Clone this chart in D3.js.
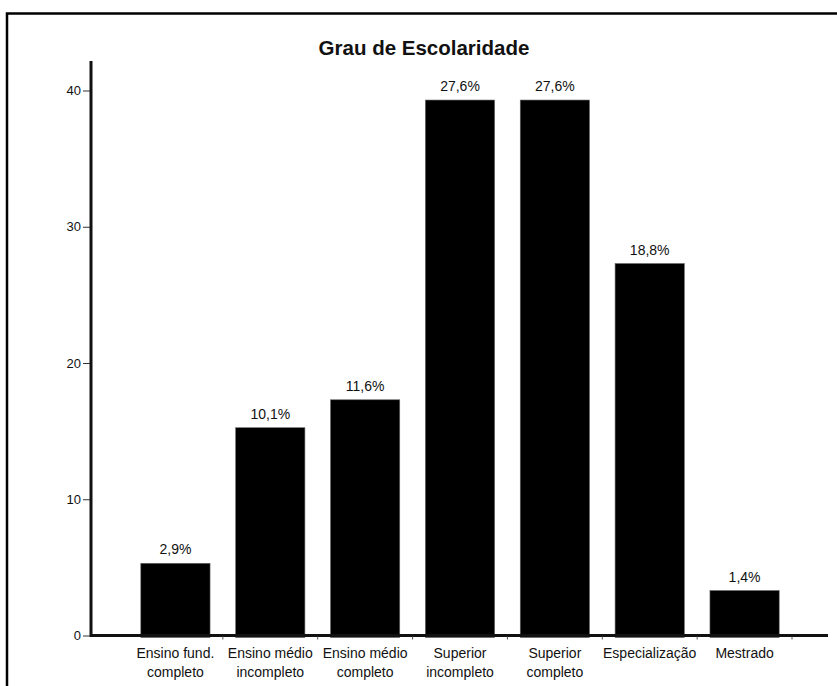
<!DOCTYPE html>
<html>
<head>
<meta charset="utf-8">
<script src="https://cdn.jsdelivr.net/npm/d3@7"></script>
<style>
  html, body { margin: 0; padding: 0; background: #fff; }
  svg { display: block; }
  text { font-family: "Liberation Sans", Arial, sans-serif; fill: #111; }
</style>
</head>
<body>
<svg id="chart" width="837" height="686"></svg>
<script>
// Escolaridade: categorias, contagens e percentuais
const categories = [
  ["Ensino fund.", "completo"],
  ["Ensino médio", "incompleto"],
  ["Ensino médio", "completo"],
  ["Superior", "incompleto"],
  ["Superior", "completo"],
  ["Especialização"],
  ["Mestrado"]
];
const counts = [5.3, 15.25, 17.3, 39.3, 39.3, 27.3, 3.3];
const percentLabels = ["2,9%", "10,1%", "11,6%", "27,6%", "27,6%", "18,8%", "1,4%"];
const yTicks = [0, 10, 20, 30, 40];
const title = "Grau de Escolaridade";

const svg = d3.select("#chart");

// moldura
svg.append("path")
  .attr("d", "M7,686 V13.5 H837")
  .attr("fill", "none")
  .attr("stroke", "#000")
  .attr("stroke-width", 2.5);

const x0 = 91, yBase = 635.5, yTop = 90.5;

const x = d3.scaleBand()
  .domain(d3.range(categories.length))
  .range([128, 792])
  .paddingInner(0.27)
  .paddingOuter(0.135);

const y = d3.scaleLinear().domain([0, 40]).range([yBase, yTop]);

// título
svg.append("text")
  .attr("x", 424)
  .attr("y", 55)
  .attr("text-anchor", "middle")
  .style("font-weight", "bold")
  .style("font-size", "20.5px")
  .text(title);

// barras
svg.append("g").selectAll("rect")
  .data(counts)
  .join("rect")
  .attr("x", (d, i) => x(i))
  .attr("width", x.bandwidth())
  .attr("y", d => y(d))
  .attr("height", d => y(0) - y(d) + 2)
  .attr("fill", "#000")
  .attr("stroke", "#666")
  .attr("stroke-width", 0.6);

// rótulos de percentual
svg.append("g").selectAll("text")
  .data(counts)
  .join("text")
  .attr("x", (d, i) => x(i) + x.bandwidth() / 2)
  .attr("y", d => y(d) - 9)
  .attr("text-anchor", "middle")
  .style("font-size", "14px")
  .text((d, i) => percentLabels[i]);

// eixo y
const yAxis = svg.append("g")
  .attr("transform", `translate(${x0},0)`)
  .call(d3.axisLeft(y).tickValues(yTicks).tickSize(8).tickPadding(2).tickFormat(d3.format("d")));
yAxis.select(".domain").remove();
yAxis.selectAll(".tick line").attr("stroke", "#333").attr("stroke-width", 1);
yAxis.selectAll(".tick text").style("font-size", "13px").style("font-family", "'Liberation Sans', Arial, sans-serif").attr("fill", "#222");
svg.append("line")
  .attr("x1", x0).attr("x2", x0)
  .attr("y1", 61).attr("y2", yBase + 1.5)
  .attr("stroke", "#111").attr("stroke-width", 3);

// eixo x
const xAxis = svg.append("g")
  .attr("transform", `translate(0,${yBase})`)
  .call(d3.axisBottom(x).tickSize(0).tickFormat(""));
xAxis.select(".domain").remove();
svg.append("line")
  .attr("x1", x0).attr("x2", 828)
  .attr("y1", yBase).attr("y2", yBase)
  .attr("stroke", "#111").attr("stroke-width", 3);

// marcas entre categorias
const bounds = d3.range(categories.length + 1).map(i => 128 + i * x.step());
svg.append("g").selectAll("line")
  .data(bounds.slice(1))
  .join("line")
  .attr("x1", d => d).attr("x2", d => d)
  .attr("y1", yBase + 1).attr("y2", yBase + 4)
  .attr("stroke", "#555").attr("stroke-width", 1);

// rótulos das categorias
const labels = svg.append("g").selectAll("text")
  .data(categories)
  .join("text")
  .attr("x", (d, i) => x(i) + x.bandwidth() / 2)
  .attr("y", 658)
  .attr("text-anchor", "middle")
  .style("font-size", "14px");
labels.selectAll("tspan")
  .data(d => d)
  .join("tspan")
  .attr("x", function() { return d3.select(this.parentNode).attr("x"); })
  .attr("dy", (d, i) => i === 0 ? 0 : 19)
  .text(d => d);
</script>
</body>
</html>
